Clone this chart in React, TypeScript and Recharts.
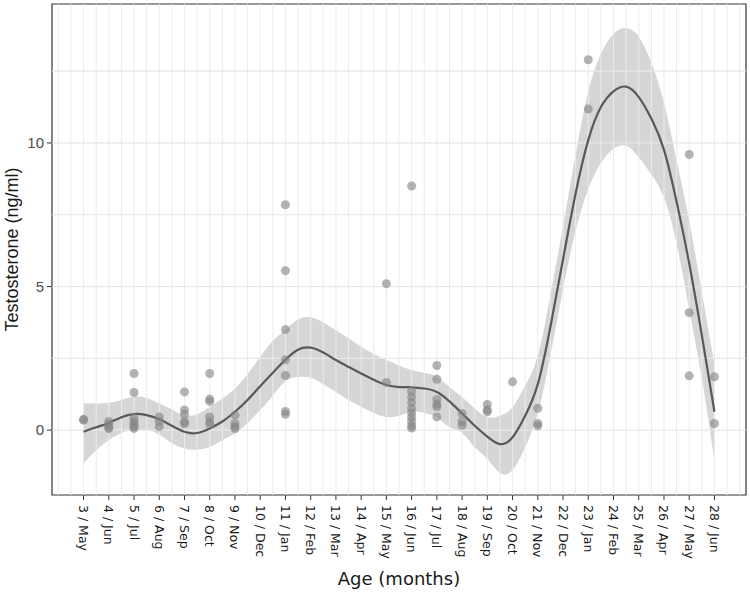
import {
  ComposedChart,
  XAxis,
  YAxis,
  Line,
  Area,
  Scatter,
  ReferenceLine,
  ReferenceArea,
  Label,
} from "recharts";

// x axis: age in months, with calendar month of sampling
const months = [3, 4, 5, 6, 7, 8, 9, 10, 11, 12, 13, 14, 15, 16, 17, 18, 19, 20, 21, 22, 23, 24, 25, 26, 27, 28];
const monthNames = ["May", "Jun", "Jul", "Aug", "Sep", "Oct", "Nov", "Dec", "Jan", "Feb", "Mar", "Apr", "May", "Jun", "Jul", "Aug", "Sep", "Oct", "Nov", "Dec", "Jan", "Feb", "Mar", "Apr", "May", "Jun"];
const yTicks = [0, 5, 10];

// observed testosterone (ng/ml) per sampled month
const obsMonths = [3, 4, 5, 6, 7, 8, 9, 11, 15, 16, 17, 18, 19, 20, 21, 23, 27, 28];
const obsValues = [
  [0.38, 0.35],
  [0.3, 0.2, 0.1, 0.05],
  [1.97, 1.31, 0.42, 0.3, 0.2, 0.12, 0.06],
  [0.46, 0.3, 0.12],
  [1.33, 0.7, 0.55, 0.29, 0.22],
  [1.97, 1.08, 1.0, 0.46, 0.29, 0.2],
  [0.52, 0.23, 0.12, 0.05],
  [7.85, 5.55, 3.5, 2.45, 1.9, 0.65, 0.55],
  [5.1, 1.66],
  [8.5, 1.35, 1.15, 0.95, 0.75, 0.6, 0.45, 0.3, 0.15, 0.07],
  [2.25, 1.77, 1.07, 0.9, 0.81, 0.46],
  [0.58, 0.3, 0.17],
  [0.89, 0.7, 0.64],
  [1.68],
  [0.76, 0.23, 0.15],
  [12.9, 11.18],
  [9.6, 4.09, 1.89],
  [1.86, 0.23],
];

// loess fit with its confidence band
const fitMonths = [3, 3.5, 4, 4.5, 5, 5.5, 6, 6.5, 7, 7.5, 8, 8.5, 9, 9.5, 10, 10.5, 11, 11.5, 12, 12.5, 13, 13.5, 14, 14.5, 15, 15.5, 16, 16.5, 17, 17.5, 18, 18.5, 19, 19.5, 20, 20.5, 21, 21.5, 22, 22.5, 23, 23.5, 24, 24.5, 25, 25.5, 26, 26.5, 27, 27.5, 28];
const fitValues = [-0.06, 0.1, 0.25, 0.45, 0.56, 0.52, 0.38, 0.15, -0.06, -0.1, 0.06, 0.3, 0.64, 1.05, 1.53, 2.0, 2.45, 2.8, 2.87, 2.7, 2.44, 2.2, 1.97, 1.75, 1.57, 1.5, 1.49, 1.45, 1.33, 1.0, 0.58, 0.15, -0.23, -0.49, -0.25, 0.5, 1.6, 3.6, 5.95, 8.25, 10.1, 11.25, 11.8, 11.96, 11.6, 10.85, 9.76, 7.95, 5.8, 3.3, 0.64];
const fitLow = [-1.15, -0.7, -0.35, -0.1, 0.0, 0.0, -0.15, -0.45, -0.64, -0.68, -0.58, -0.35, -0.12, 0.25, 0.7, 1.2, 1.7, 1.85, 1.82, 1.6, 1.33, 1.05, 0.81, 0.6, 0.46, 0.5, 0.64, 0.6, 0.45, 0.1, -0.1, -0.6, -1.0, -1.49, -1.39, -0.6, 0.6, 2.6, 4.9, 6.95, 8.4, 9.3, 9.8, 9.9, 9.5, 8.9, 8.1, 6.5, 4.2, 1.8, -1.05];
const fitHigh = [0.93, 0.93, 0.95, 1.05, 1.16, 1.12, 0.93, 0.72, 0.52, 0.55, 0.81, 1.1, 1.45, 1.95, 2.55, 3.1, 3.5, 3.85, 3.93, 3.75, 3.48, 3.2, 2.9, 2.65, 2.44, 2.25, 2.09, 2.0, 1.86, 1.5, 1.15, 0.75, 0.45, 0.5, 0.8, 1.55, 2.6, 4.7, 7.1, 9.6, 11.8, 13.1, 13.8, 14.0, 13.7, 12.8, 11.4, 9.4, 7.3, 4.8, 2.3];

const fitData = fitMonths.map((m, i) => ({
  month: m,
  fit: fitValues[i],
  band: [fitLow[i], fitHigh[i]],
}));

const obsData = obsMonths.flatMap((m, i) =>
  obsValues[i].map((t) => ({ month: m, t }))
);

const tickLabels = months.map((m, i) => `${m} / ${monthNames[i]}`);

// grid: every half month, and every 2.5 ng/ml
const gridX: number[] = [];
for (let v = 2; v <= 29; v += 0.5) gridX.push(v);
const gridY = [0, 2.5, 5, 7.5, 10, 12.5];

const X_DOMAIN: [number, number] = [1.75, 29.25];
const Y_DOMAIN: [number, number] = [-2.26, 14.84];

function XTick(props: any) {
  const { x, y, payload } = props;
  const i = months.indexOf(payload.value);
  const ty = y + 3;
  return (
    <text
      x={x}
      y={ty}
      transform={`rotate(90 ${x} ${ty})`}
      textAnchor="start"
      dominantBaseline="central"
      fontFamily="DejaVu Sans, Verdana, sans-serif"
      fontSize={12.5}
      fill="#1a1a1a"
    >
      {tickLabels[i]}
    </text>
  );
}

function Dot(props: any) {
  const { cx, cy } = props;
  return <circle cx={cx} cy={cy} r={4.5} fill="#858585" fillOpacity={0.62} />;
}

export default function App() {
  return (
    <div style={{ position: "absolute", left: 0, top: 0, background: "#fff" }}>
      <ComposedChart
        width={750}
        height={593}
        margin={{ top: 4, right: 4, bottom: 0, left: 0 }}
      >
        <XAxis
          type="number"
          dataKey="month"
          domain={X_DOMAIN}
          ticks={months}
          interval={0}
          allowDataOverflow
          height={98}
          axisLine={false}
          tickSize={5}
          tickLine={{ stroke: "#333" }}
          tick={<XTick />}
        >
          <Label
            content={(p: any) => {
              const vb = p.viewBox;
              const cx = vb.x + vb.width / 2;
              return (
                <text
                  x={cx}
                  y={585}
                  textAnchor="middle"
                  fontFamily="DejaVu Sans, Verdana, sans-serif"
                  fontSize={18}
                  fill="#1a1a1a"
                >
                  Age (months)
                </text>
              );
            }}
          />
        </XAxis>
        <YAxis
          type="number"
          domain={Y_DOMAIN}
          ticks={yTicks}
          allowDataOverflow
          width={52}
          axisLine={false}
          tickSize={5}
          tickMargin={3}
          tickLine={{ stroke: "#333" }}
          tick={{ fill: "#4d4d4d", fontSize: 15, fontFamily: "Liberation Sans, Arial, sans-serif" }}
        >
          <Label
            content={(p: any) => {
              const vb = p.viewBox;
              const cx = 12;
              const cy = vb.y + vb.height / 2;
              return (
                <text
                  x={cx}
                  y={cy}
                  transform={`rotate(-90 ${cx} ${cy})`}
                  textAnchor="middle"
                  dominantBaseline="central"
                  fontFamily="Liberation Sans, Arial, sans-serif"
                  fontSize={18}
                  fill="#1a1a1a"
                >
                  Testosterone (ng/ml)
                </text>
              );
            }}
          />
        </YAxis>

        {gridX.map((v) => (
          <ReferenceLine key={`gx${v}`} x={v} stroke="#ebebeb" strokeWidth={1} />
        ))}
        {gridY.map((v) => (
          <ReferenceLine key={`gy${v}`} y={v} stroke="#e8e8e8" strokeWidth={1.2} />
        ))}

        <Area
          data={fitData}
          dataKey="band"
          type="natural"
          stroke="none"
          fill="#999999"
          fillOpacity={0.4}
          isAnimationActive={false}
        />
        <Line
          data={fitData}
          dataKey="fit"
          type="natural"
          stroke="#595959"
          strokeWidth={2.2}
          dot={false}
          isAnimationActive={false}
        />
        <Scatter
          data={obsData}
          dataKey="t"
          shape={<Dot />}
          isAnimationActive={false}
        />

        <ReferenceArea
          x1={X_DOMAIN[0]}
          x2={X_DOMAIN[1]}
          y1={Y_DOMAIN[0]}
          y2={Y_DOMAIN[1]}
          fill="none"
          stroke="#333"
          strokeWidth={1.2}
          ifOverflow="visible"
        />
      </ComposedChart>
    </div>
  );
}
